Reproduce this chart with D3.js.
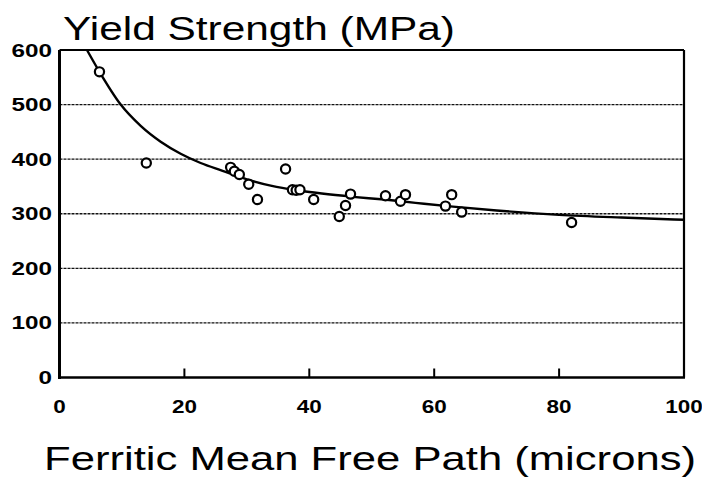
<!DOCTYPE html>
<html>
<head>
<meta charset="utf-8">
<script src="https://cdn.jsdelivr.net/npm/d3@7"></script>
<style>
  body { margin: 0; background: #fff; }
  svg { display: block; }
</style>
</head>
<body>
<svg id="drawing_region"></svg>
<script>
// measured points: ferritic mean free path (microns) vs yield strength (MPa)
const pathValues     = [6.4, 13.9, 27.4, 28.0, 28.8, 30.3, 31.7, 36.2, 37.3, 37.9, 38.5, 40.7,
                        44.8, 45.8, 46.6, 52.2, 54.6, 55.4, 61.8, 62.8, 64.4, 82.0];
const strengthValues = [560, 393, 385, 378, 372, 354, 326, 382, 344, 343, 344, 326,
                        295, 315, 336, 333, 323, 335, 314, 335, 303, 284];

// fitted curve
const curvePath     = [4.4, 6.4, 9.8, 13, 16.2, 19.4, 22.6, 26, 30, 34, 38, 42, 47, 52, 57, 63, 70, 80, 90, 100];
const curveStrength = [600, 560, 500, 461, 432, 410, 393, 379, 363, 351, 343, 337, 331, 326, 320, 313, 306, 298, 293, 289];

const xTicks = [0, 20, 40, 60, 80, 100];
const yTicks = [0, 100, 200, 300, 400, 500, 600];

class ScatterChart {

  constructor( config ) {
    this.config = config;
    this.init();
  }

  init() {
    let self = this;

    self.svg = d3.select( self.config.parent )
        .attr('width', self.config.width)
        .attr('height', self.config.height);

    self.xscale = d3.scaleLinear()
        .domain([0, 100])
        .range([self.config.left, self.config.right]);

    self.yscale = d3.scaleLinear()
        .domain([0, 600])
        .range([self.config.bottom, self.config.top]);
  }

  render() {
    let self = this;
    const x = self.xscale, y = self.yscale;

    // dotted grid lines
    self.svg.append('g')
        .selectAll('line')
        .data(yTicks.filter(d => d > 0 && d < 600))
        .join('line')
        .attr('x1', x(0)).attr('x2', x(100))
        .attr('y1', d => y(d)).attr('y2', d => y(d))
        .attr('stroke', '#111')
        .attr('stroke-width', 1.4)
        .attr('stroke-dasharray', '3,1');

    // frame
    self.svg.append('line')
        .attr('x1', x(0)).attr('x2', x(100))
        .attr('y1', y(600)).attr('y2', y(600))
        .attr('stroke', '#000').attr('stroke-width', 2.2);
    self.svg.append('line')
        .attr('x1', x(100)).attr('x2', x(100))
        .attr('y1', y(600)).attr('y2', y(0))
        .attr('stroke', '#000').attr('stroke-width', 2.2);
    self.svg.append('line')
        .attr('x1', x(0)).attr('x2', x(0))
        .attr('y1', y(600)).attr('y2', y(0) + 1.5)
        .attr('stroke', '#000').attr('stroke-width', 3);
    self.svg.append('line')
        .attr('x1', x(0) - 1.5).attr('x2', x(100) + 1)
        .attr('y1', y(0)).attr('y2', y(0))
        .attr('stroke', '#000').attr('stroke-width', 2.6);

    // x ticks pointing into the plot
    self.svg.append('g')
        .selectAll('line')
        .data(xTicks.filter(d => d > 0 && d < 100))
        .join('line')
        .attr('x1', d => x(d)).attr('x2', d => x(d))
        .attr('y1', y(0)).attr('y2', y(0) - 9)
        .attr('stroke', '#000').attr('stroke-width', 2);

    // tick labels
    self.svg.append('g')
        .selectAll('text')
        .data(yTicks)
        .join('text')
        .attr('x', 52)
        .attr('y', d => y(d) + 6.5)
        .attr('text-anchor', 'end')
        .attr('font-family', 'Liberation Sans, Arial, sans-serif')
        .attr('font-weight', 'bold')
        .attr('font-size', '18px')
        .attr('textLength', d => String(d).length * 13.5)
        .attr('lengthAdjust', 'spacingAndGlyphs')
        .text(d => d);

    self.svg.append('g')
        .selectAll('text')
        .data(xTicks)
        .join('text')
        .attr('x', d => x(d))
        .attr('y', 413)
        .attr('text-anchor', 'middle')
        .attr('font-family', 'Liberation Sans, Arial, sans-serif')
        .attr('font-weight', 'bold')
        .attr('font-size', '18px')
        .attr('textLength', d => String(d).length * 12.5)
        .attr('lengthAdjust', 'spacingAndGlyphs')
        .text(d => d);

    // fitted curve
    const curve = d3.line()
        .x((d, i) => x(d))
        .y((d, i) => y(curveStrength[i]))
        .curve(d3.curveMonotoneX);

    self.svg.append('path')
        .attr('d', curve(curvePath))
        .attr('fill', 'none')
        .attr('stroke', '#000')
        .attr('stroke-width', 2.4);

    // hollow markers
    self.svg.append('g')
        .selectAll('circle')
        .data(pathValues)
        .join('circle')
        .attr('cx', d => x(d))
        .attr('cy', (d, i) => y(strengthValues[i]))
        .attr('r', 4.6)
        .attr('fill', '#fff')
        .attr('stroke', '#000')
        .attr('stroke-width', 2.2);

    // titles
    self.svg.append('text')
        .attr('x', 63)
        .attr('y', 40)
        .attr('font-family', 'Liberation Sans, Arial, sans-serif')
        .attr('font-size', '33px')
        .attr('textLength', 392)
        .attr('lengthAdjust', 'spacingAndGlyphs')
        .text('Yield Strength (MPa)');

    self.svg.append('text')
        .attr('x', 44)
        .attr('y', 470)
        .attr('font-family', 'Liberation Sans, Arial, sans-serif')
        .attr('font-size', '34px')
        .attr('textLength', 652)
        .attr('lengthAdjust', 'spacingAndGlyphs')
        .text('Ferritic Mean Free Path (microns)');
  }
}

const chart = new ScatterChart({
  parent: '#drawing_region',
  width: 702,
  height: 483,
  left: 59.5,
  right: 684,
  top: 50,
  bottom: 377.5
});
chart.render();
</script>
</body>
</html>
